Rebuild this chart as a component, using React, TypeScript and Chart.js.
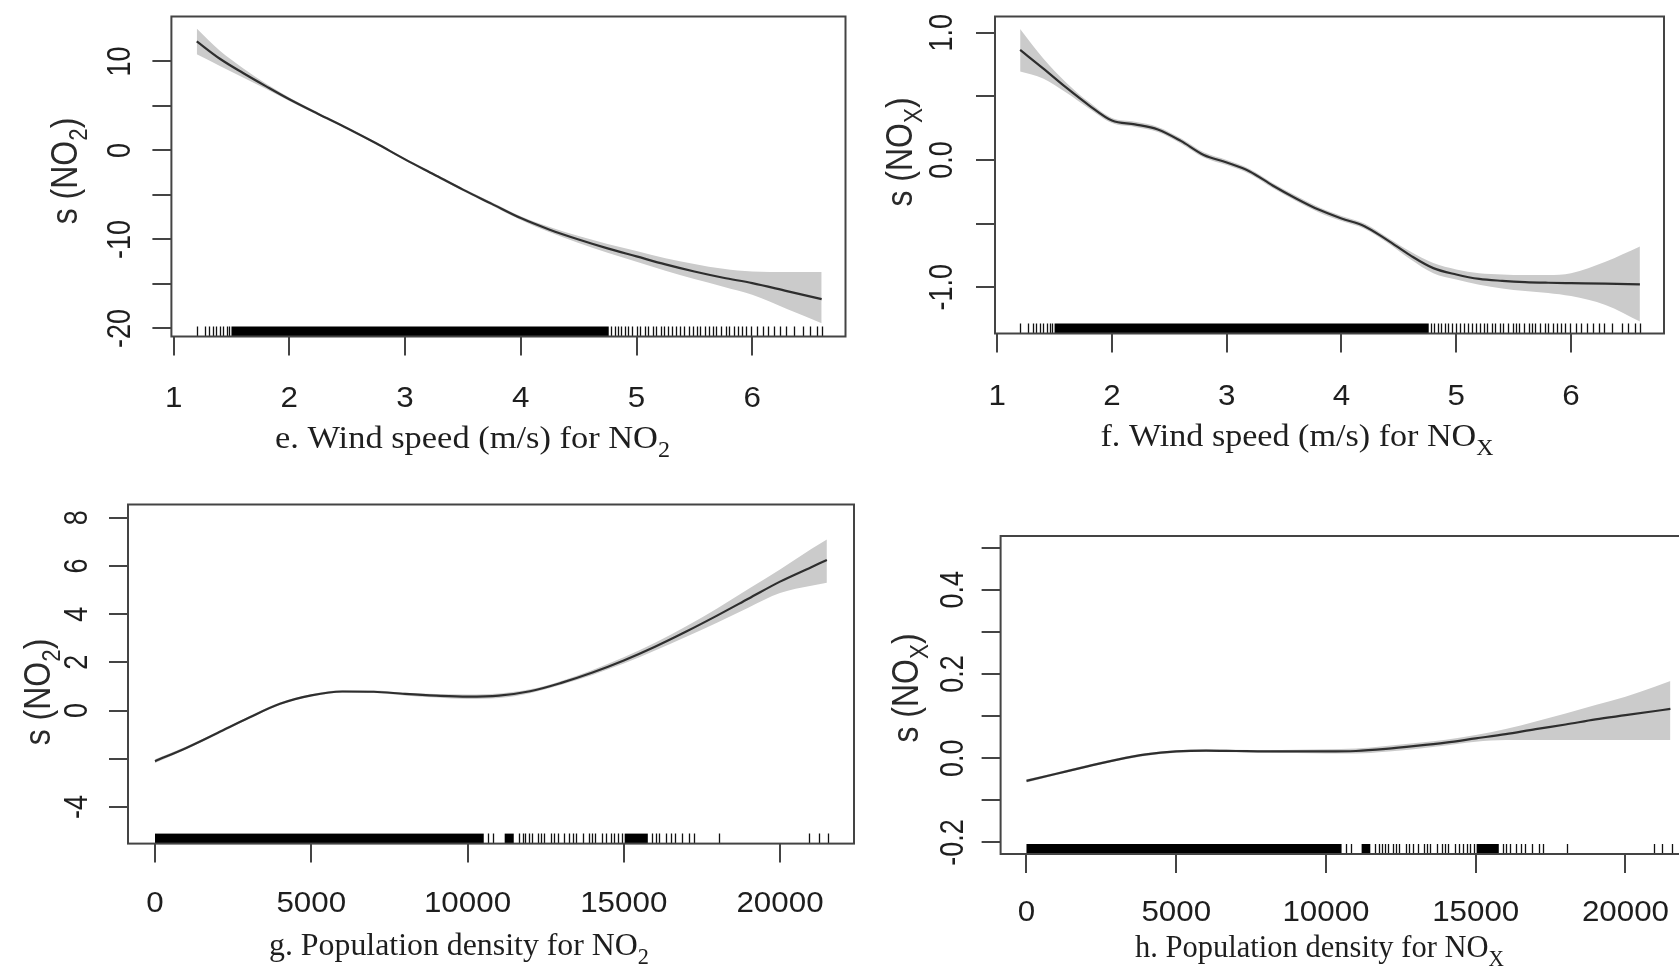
import React, { useEffect, useRef } from 'react';
import { Chart, registerables } from 'chart.js';

Chart.register(...registerables);

const PAGE_W = 1679;
const PAGE_H = 966;

// ---------- data: wind speed panels ----------
const windX = [1.2, 1.4, 1.6, 1.8, 2.0, 2.25, 2.5, 2.75, 3.0, 3.25, 3.5, 3.75, 4.0, 4.25, 4.5, 4.75, 5.0, 5.25, 5.5, 5.75, 6.0, 6.3, 6.6];
const fitE = [12.25, 10.3, 8.7, 7.2, 5.75, 4.1, 2.5, 0.8, -1.0, -2.7, -4.4, -6.0, -7.6, -8.9, -10.0, -11.0, -11.9, -12.8, -13.6, -14.3, -14.9, -15.8, -16.7];
const upperE = [13.7, 11.2, 9.25, 7.5, 5.95, 4.25, 2.62, 0.92, -0.88, -2.57, -4.25, -5.82, -7.38, -8.6, -9.6, -10.5, -11.3, -12.1, -12.75, -13.3, -13.6, -13.65, -13.65];
const lowerE = [10.8, 9.5, 8.2, 6.9, 5.55, 3.95, 2.38, 0.68, -1.12, -2.83, -4.55, -6.18, -7.82, -9.2, -10.4, -11.5, -12.5, -13.5, -14.45, -15.3, -16.2, -17.8, -19.4];

const windXF = [1.2, 1.4, 1.6, 1.8, 2.0, 2.2, 2.4, 2.6, 2.8, 3.0, 3.2, 3.4, 3.6, 3.8, 4.0, 4.2, 4.4, 4.6, 4.8, 5.0, 5.2, 5.4, 5.6, 5.8, 6.0, 6.3, 6.6];
const fitF = [0.865, 0.72, 0.57, 0.43, 0.31, 0.28, 0.24, 0.15, 0.04, -0.02, -0.09, -0.2, -0.3, -0.39, -0.46, -0.52, -0.63, -0.75, -0.85, -0.9, -0.935, -0.95, -0.96, -0.965, -0.968, -0.972, -0.978];
const upperF = [1.03, 0.8, 0.61, 0.455, 0.33, 0.3, 0.26, 0.17, 0.06, 0.0, -0.07, -0.18, -0.28, -0.37, -0.44, -0.5, -0.61, -0.72, -0.81, -0.86, -0.89, -0.9, -0.905, -0.905, -0.89, -0.8, -0.68];
const lowerF = [0.695, 0.64, 0.53, 0.405, 0.29, 0.26, 0.22, 0.13, 0.02, -0.04, -0.11, -0.22, -0.32, -0.41, -0.48, -0.54, -0.65, -0.78, -0.89, -0.94, -0.98, -1.01, -1.03, -1.045, -1.07, -1.14, -1.27];

// ---------- data: population density panels ----------
const popX = [0, 1000, 2000, 3000, 4000, 5000, 6000, 7000, 8000, 9000, 10000, 11000, 12000, 13000, 14000, 15000, 16000, 17000, 18000, 19000, 20000, 21000, 21500];
const fitG = [-2.1, -1.55, -0.93, -0.3, 0.28, 0.63, 0.79, 0.78, 0.69, 0.62, 0.58, 0.62, 0.8, 1.15, 1.58, 2.08, 2.65, 3.28, 3.95, 4.65, 5.35, 5.95, 6.25];
const upperG = [-2.02, -1.49, -0.88, -0.25, 0.33, 0.68, 0.84, 0.83, 0.74, 0.69, 0.67, 0.71, 0.88, 1.23, 1.68, 2.21, 2.81, 3.5, 4.25, 5.05, 5.85, 6.7, 7.1];
const lowerG = [-2.18, -1.61, -0.98, -0.35, 0.23, 0.58, 0.74, 0.73, 0.63, 0.54, 0.48, 0.52, 0.72, 1.07, 1.48, 1.95, 2.49, 3.06, 3.65, 4.28, 4.88, 5.18, 5.3];

const fitH = [-0.054, -0.037, -0.02, -0.004, 0.009, 0.016, 0.018, 0.017, 0.016, 0.016, 0.016, 0.017, 0.022, 0.029, 0.037, 0.047, 0.057, 0.069, 0.08, 0.092, 0.102, 0.112, 0.117];
const upperH = [-0.05, -0.034, -0.017, -0.001, 0.012, 0.019, 0.021, 0.02, 0.019, 0.02, 0.021, 0.023, 0.029, 0.036, 0.044, 0.055, 0.069, 0.087, 0.106, 0.126, 0.146, 0.17, 0.183];
const lowerH = [-0.058, -0.04, -0.023, -0.007, 0.006, 0.013, 0.015, 0.014, 0.013, 0.012, 0.011, 0.011, 0.015, 0.022, 0.03, 0.039, 0.043, 0.043, 0.043, 0.043, 0.043, 0.043, 0.043];

// ---------- rug (observations) ----------
const rugWindTicks = [1.2, 1.27, 1.31, 1.34, 1.37, 1.4, 1.43, 1.46, 1.48, 4.78, 4.81, 4.84, 4.87, 4.9, 4.93, 4.96, 5.0, 5.03, 5.07, 5.1, 5.14, 5.17, 5.21, 5.24, 5.27, 5.31, 5.34, 5.38, 5.41, 5.45, 5.49, 5.52, 5.55, 5.59, 5.63, 5.66, 5.69, 5.73, 5.77, 5.8, 5.84, 5.88, 5.91, 5.95, 5.99, 6.04, 6.09, 6.14, 6.19, 6.24, 6.29, 6.36, 6.44, 6.5, 6.56, 6.6];
const rugWindBlocks = [[1.5, 4.76]];
const rugPopTicks = [10670, 10820, 11632, 11760, 11854, 11960, 12075, 12253, 12350, 12446, 12667, 12780, 12889, 13081, 13258, 13380, 13480, 13702, 13878, 13980, 14071, 14292, 14437, 14586, 14700, 14808, 14955, 15916, 16020, 16137, 16358, 16508, 16655, 16876, 17097, 17248, 18057, 20938, 21236, 21540];
const rugPopBlocks = [[0, 10520], [11190, 11480], [15030, 15770]];

// ---------- ticks ----------
const xTicksWind = [1, 2, 3, 4, 5, 6];
const xLabelsWind = ['1', '2', '3', '4', '5', '6'];
const xTicksPop = [0, 5000, 10000, 15000, 20000];
const xLabelsPop = ['0', '5000', '10000', '15000', '20000'];
const yTicksE = [-20, -15, -10, -5, 0, 5, 10];
const yLabelsE = ['-20', '', '-10', '', '0', '', '10'];
const yTicksF = [-1.0, -0.5, 0.0, 0.5, 1.0];
const yLabelsF = ['-1.0', '', '0.0', '', '1.0'];
const yTicksG = [-4, -2, 0, 2, 4, 6, 8];
const yLabelsG = ['-4', '', '0', '2', '4', '6', '8'];
const yTicksH = [-0.2, -0.1, 0.0, 0.1, 0.2, 0.3, 0.4, 0.5];
const yLabelsH = ['-0.2', '', '0.0', '', '0.2', '', '0.4', ''];

type Part = { t: string; sub?: boolean };

const SANS = '"Liberation Sans", Arial, Helvetica, sans-serif';
const SERIF = '"Liberation Serif", "Times New Roman", Times, serif';
const TEXT_COLOR = '#1e1e1e';
const AXIS_COLOR = '#444444';

function drawParts(
  ctx: CanvasRenderingContext2D,
  parts: Part[],
  family: string,
  size: number,
  x: number,
  y: number,
  opts: { sx?: number; targetW?: number; rotate?: boolean; baseOff?: number; color?: string }
) {
  ctx.save();
  const widths: number[] = [];
  let total = 0;
  parts.forEach((p) => {
    ctx.font = `${p.sub ? size * 0.7 : size}px ${family}`;
    const w = ctx.measureText(p.t).width;
    widths.push(w);
    total += w;
  });
  const sx = opts.targetW ? opts.targetW / total : opts.sx ?? 1;
  ctx.translate(x, y);
  ctx.scale(sx, 1);
  if (opts.rotate) ctx.rotate(-Math.PI / 2);
  ctx.fillStyle = opts.color ?? TEXT_COLOR;
  ctx.textAlign = 'left';
  ctx.textBaseline = 'alphabetic';
  let cx = -total / 2;
  const base = opts.baseOff ?? 0;
  parts.forEach((p, i) => {
    ctx.font = `${p.sub ? size * 0.7 : size}px ${family}`;
    ctx.fillText(p.t, cx, base + (p.sub ? size * 0.28 : 0));
    cx += widths[i];
  });
  ctx.restore();
}

type PanelCfg = {
  canvasW: number;
  box: { l: number; r: number; t: number; b: number };
  xMin: number; xMax: number; yMin: number; yMax: number;
  xs: number[]; fit: number[]; upper: number[]; lower: number[];
  xTicks: number[]; xLabels: string[]; yTicks: number[]; yLabels: string[];
  rugTicks: number[]; rugBlocks: number[][];
  yLabelX: number; xLabelY: number;
  yTitle: Part[]; yTitleX: number; yTitleY: number; yTitleSize: number;
  xTitle: Part[]; xTitleX: number; xTitleBase: number; xTitleW: number;
};

const XTICK_SIZE = 29;
const XTICK_SX = 1.08;
const YTICK_SIZE = 27;
const YTICK_SX = 1.22;
const XTITLE_SIZE = 32;

function makePlugin(cfg: PanelCfg) {
  return {
    id: 'rPanel',
    afterDatasetsDraw(chart: any) {
      const { ctx, chartArea, scales } = chart;
      const xs = scales.x;
      const yb = chartArea.bottom;
      const rugH = 10;
      ctx.save();
      ctx.beginPath();
      ctx.rect(chartArea.left, chartArea.top, chartArea.right - chartArea.left, chartArea.bottom - chartArea.top);
      ctx.clip();
      ctx.fillStyle = '#000';
      cfg.rugBlocks.forEach(([a, b]) => {
        const pa = xs.getPixelForValue(a);
        const pb = xs.getPixelForValue(b);
        ctx.fillRect(pa, yb - rugH, pb - pa, rugH);
      });
      ctx.strokeStyle = '#111';
      ctx.lineWidth = 1.3;
      cfg.rugTicks.forEach((v) => {
        const p = Math.round(xs.getPixelForValue(v)) + 0.5;
        ctx.beginPath();
        ctx.moveTo(p, yb);
        ctx.lineTo(p, yb - rugH);
        ctx.stroke();
      });
      ctx.restore();
    },
    afterDraw(chart: any) {
      const { ctx, chartArea, scales } = chart;
      ctx.save();
      ctx.strokeStyle = AXIS_COLOR;
      ctx.lineWidth = 2;
      ctx.strokeRect(chartArea.left, chartArea.top, chartArea.right - chartArea.left, chartArea.bottom - chartArea.top);
      ctx.restore();
      // x tick labels
      cfg.xTicks.forEach((v, i) => {
        const lab = cfg.xLabels[i];
        if (!lab) return;
        const px = scales.x.getPixelForValue(v);
        drawParts(ctx, [{ t: lab }], SANS, XTICK_SIZE, px, cfg.xLabelY + XTICK_SIZE * 0.358, { sx: XTICK_SX });
      });
      // y tick labels (rotated, R style)
      cfg.yTicks.forEach((v, i) => {
        const lab = cfg.yLabels[i];
        if (!lab) return;
        const py = scales.y.getPixelForValue(v);
        drawParts(ctx, [{ t: lab }], SANS, YTICK_SIZE, cfg.yLabelX, py, { sx: YTICK_SX, rotate: true, baseOff: YTICK_SIZE * 0.358 });
      });
      // axis titles
      drawParts(ctx, cfg.yTitle, SANS, cfg.yTitleSize, cfg.yTitleX, cfg.yTitleY, { sx: 1.18, rotate: true, baseOff: cfg.yTitleSize * 0.358, color: '#2a2a2a' });
      drawParts(ctx, cfg.xTitle, SERIF, XTITLE_SIZE, cfg.xTitleX, cfg.xTitleBase, { targetW: cfg.xTitleW });
    },
  };
}

const panels: PanelCfg[] = [
  {
    canvasW: PAGE_W,
    box: { l: 171.4, r: 845.5, t: 16.5, b: 336.5 },
    xMin: 0.981, xMax: 6.806, yMin: -20.9, yMax: 15.05,
    xs: windX, fit: fitE, upper: upperE, lower: lowerE,
    xTicks: xTicksWind, xLabels: xLabelsWind, yTicks: yTicksE, yLabels: yLabelsE,
    rugTicks: rugWindTicks, rugBlocks: rugWindBlocks,
    yLabelX: 118, xLabelY: 397,
    yTitle: [{ t: 's (NO' }, { t: '2', sub: true }, { t: ')' }], yTitleX: 63, yTitleY: 171, yTitleSize: 32,
    xTitle: [{ t: 'e. Wind speed (m/s) for NO' }, { t: '2', sub: true }], xTitleX: 472.5, xTitleBase: 448, xTitleW: 395,
  },
  {
    canvasW: PAGE_W,
    box: { l: 995, r: 1664, t: 16.5, b: 333.5 },
    xMin: 0.981, xMax: 6.81, yMin: -1.364, yMax: 1.128,
    xs: windXF, fit: fitF, upper: upperF, lower: lowerF,
    xTicks: xTicksWind, xLabels: xLabelsWind, yTicks: yTicksF, yLabels: yLabelsF,
    rugTicks: rugWindTicks, rugBlocks: rugWindBlocks,
    yLabelX: 940, xLabelY: 395,
    yTitle: [{ t: 's (NO' }, { t: 'X', sub: true }, { t: ')' }], yTitleX: 898, yTitleY: 152, yTitleSize: 32,
    xTitle: [{ t: 'f. Wind speed (m/s) for NO' }, { t: 'X', sub: true }], xTitleX: 1297, xTitleBase: 446, xTitleW: 393,
  },
  {
    canvasW: PAGE_W,
    box: { l: 128, r: 854, t: 504.5, b: 843.6 },
    xMin: -864, xMax: 22368, yMin: -5.52, yMax: 8.55,
    xs: popX, fit: fitG, upper: upperG, lower: lowerG,
    xTicks: xTicksPop, xLabels: xLabelsPop, yTicks: yTicksG, yLabels: yLabelsG,
    rugTicks: rugPopTicks, rugBlocks: rugPopBlocks,
    yLabelX: 75, xLabelY: 902,
    yTitle: [{ t: 's (NO' }, { t: '2', sub: true }, { t: ')' }], yTitleX: 36, yTitleY: 692, yTitleSize: 32,
    xTitle: [{ t: 'g. Population density for NO' }, { t: '2', sub: true }], xTitleX: 459, xTitleBase: 955, xTitleW: 380,
  },
  {
    canvasW: 1710,
    box: { l: 1000.6, r: 1696.4, t: 536, b: 854 },
    xMin: -864, xMax: 22368, yMin: -0.2276, yMax: 0.5276,
    xs: popX, fit: fitH, upper: upperH, lower: lowerH,
    xTicks: xTicksPop, xLabels: xLabelsPop, yTicks: yTicksH, yLabels: yLabelsH,
    rugTicks: rugPopTicks, rugBlocks: rugPopBlocks,
    yLabelX: 951, xLabelY: 911,
    yTitle: [{ t: 's (NO' }, { t: 'X', sub: true }, { t: ')' }], yTitleX: 904, yTitleY: 688, yTitleSize: 32,
    xTitle: [{ t: 'h. Population density for NO' }, { t: 'X', sub: true }], xTitleX: 1319.5, xTitleBase: 957, xTitleW: 369,
  },
];

function Panel({ cfg }: { cfg: PanelCfg }) {
  const ref = useRef<HTMLCanvasElement | null>(null);
  useEffect(() => {
    if (!ref.current) return;
    const pts = (ys: number[]) => cfg.xs.map((x, i) => ({ x, y: ys[i] }));
    const gridOpts = {
      display: true,
      drawOnChartArea: false,
      drawTicks: true,
      tickLength: 19,
      color: AXIS_COLOR,
      lineWidth: 2,
    };
    const chart = new Chart(ref.current, {
      type: 'line',
      data: {
        datasets: [
          {
            data: pts(cfg.fit),
            borderColor: '#2e2e2e',
            borderWidth: 2.2,
            pointRadius: 0,
            fill: false,
            cubicInterpolationMode: 'monotone',
            order: 0,
          },
          {
            data: pts(cfg.upper),
            borderColor: 'rgba(0,0,0,0)',
            borderWidth: 0,
            pointRadius: 0,
            fill: false,
            cubicInterpolationMode: 'monotone',
            order: 1,
          },
          {
            data: pts(cfg.lower),
            borderColor: 'rgba(0,0,0,0)',
            borderWidth: 0,
            pointRadius: 0,
            fill: '-1',
            backgroundColor: '#cbcbcb',
            cubicInterpolationMode: 'monotone',
            order: 2,
          },
        ],
      },
      options: {
        responsive: false,
        animation: false,
        events: [],
        layout: {
          padding: {
            left: cfg.box.l,
            top: cfg.box.t,
            right: cfg.canvasW - cfg.box.r,
            bottom: PAGE_H - cfg.box.b,
          },
        },
        plugins: {
          legend: { display: false },
          tooltip: { enabled: false },
          title: { display: false },
          filler: { drawTime: 'beforeDatasetsDraw' },
        },
        scales: {
          x: {
            type: 'linear',
            min: cfg.xMin,
            max: cfg.xMax,
            afterBuildTicks: (s: any) => {
              s.ticks = cfg.xTicks.map((v) => ({ value: v }));
            },
            afterFit: (s: any) => {
              s.height = 0;
            },
            ticks: { display: false },
            grid: gridOpts,
            border: { display: false },
          },
          y: {
            type: 'linear',
            min: cfg.yMin,
            max: cfg.yMax,
            afterBuildTicks: (s: any) => {
              s.ticks = cfg.yTicks.map((v) => ({ value: v }));
            },
            afterFit: (s: any) => {
              s.width = 0;
            },
            ticks: { display: false },
            grid: gridOpts,
            border: { display: false },
          },
        },
      } as any,
      plugins: [makePlugin(cfg) as any],
    });
    return () => chart.destroy();
  }, [cfg]);
  return (
    <canvas
      ref={ref}
      width={cfg.canvasW}
      height={PAGE_H}
      style={{ position: 'absolute', left: 0, top: 0, width: cfg.canvasW, height: PAGE_H }}
    />
  );
}

export default function App() {
  return (
    <div
      style={{
        position: 'fixed',
        left: 0,
        top: 0,
        width: PAGE_W,
        height: PAGE_H,
        overflow: 'hidden',
        background: '#ffffff',
      }}
    >
      {panels.map((p, i) => (
        <Panel key={i} cfg={p} />
      ))}
    </div>
  );
}
